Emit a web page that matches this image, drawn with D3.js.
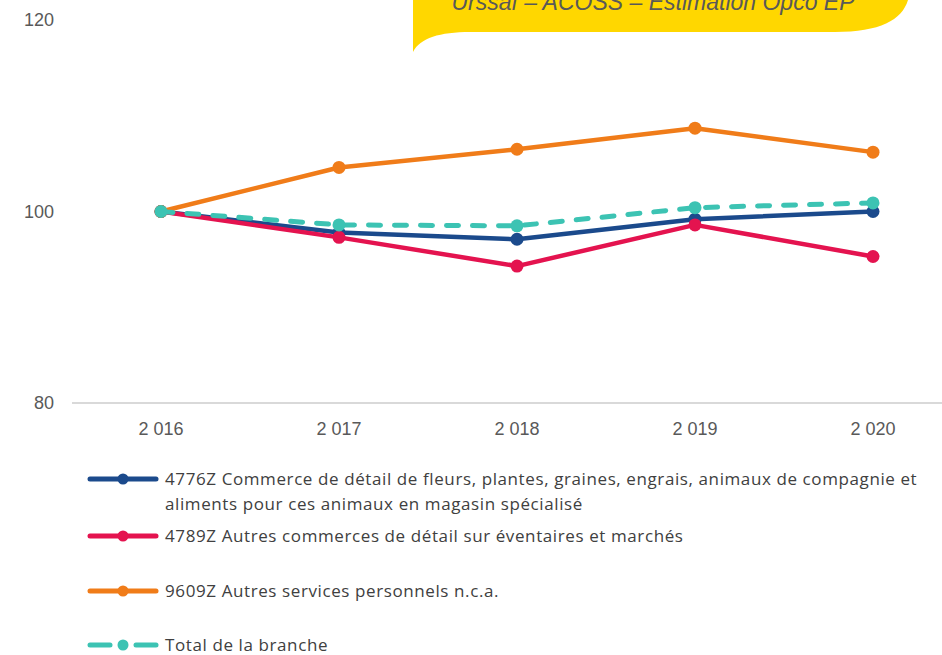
<!DOCTYPE html>
<html>
<head>
<meta charset="utf-8">
<script src="https://cdn.jsdelivr.net/npm/d3@7"></script>
<style>
  body { margin: 0; background: #fff; }
  svg { display: block; }
  .tick-label { font-family: "Liberation Sans", Arial, sans-serif; font-size: 18px; fill: #595959; }
  .legend-label { font-family: "Open Sans", "Noto Sans", sans-serif; font-size: 17px; letter-spacing: 0.6px; fill: #404040; }
  .source { font-family: "Liberation Sans", Arial, sans-serif; font-size: 23px; font-style: italic; fill: #595959; }
</style>
</head>
<body>
<div id="chart"></div>
<script>
// data
var years = ["2 016", "2 017", "2 018", "2 019", "2 020"];
var yTicks = [80, 100, 120];

var fleurs = [100, 97.8, 97.1, 99.2, 100.0];
var marches = [100, 97.3, 94.3, 98.6, 95.3];
var services = [100, 104.6, 106.5, 108.7, 106.2];
var branche = [100, 98.6, 98.5, 100.4, 100.9];

var seriesNames = [
  ["4776Z Commerce de détail de fleurs, plantes, graines, engrais, animaux de compagnie et",
   "aliments pour ces animaux en magasin spécialisé"],
  ["4789Z Autres commerces de détail sur éventaires et marchés"],
  ["9609Z Autres services personnels n.c.a."],
  ["Total de la branche"]
];
var seriesColors = ["#1b4a8c", "#e4134f", "#f07c19", "#3cc3b3"];
var seriesValues = [fleurs, marches, services, branche];

var source = "Urssaf – ACOSS – Estimation Opco EP";

var W = 942, H = 655;

var svg = d3.select("#chart").append("svg")
  .attr("width", W)
  .attr("height", H);

// scales
var x = d3.scaleBand().domain(years).range([72, 962]);
var y = d3.scaleLinear().domain([80, 120]).range([403, 20]);

var series = seriesValues.map(function(vals, i){
  return {
    name: seriesNames[i],
    color: seriesColors[i],
    dashed: i == 3,
    points: vals.map(function(v, j){ return {year: years[j], value: v}; })
  };
});

// x axis line
svg.append("line")
  .attr("x1", 72).attr("x2", W)
  .attr("y1", y(80)).attr("y2", y(80))
  .attr("stroke", "#d9d9d9")
  .attr("stroke-width", 2);

// x tick labels
svg.selectAll(".xlab").data(years).enter().append("text")
  .attr("class", "tick-label")
  .attr("x", function(d){ return x(d) + x.bandwidth()/2; })
  .attr("y", y(80) + 32)
  .attr("text-anchor", "middle")
  .text(function(d){ return d; });

// y tick labels
svg.selectAll(".ylab").data(yTicks).enter().append("text")
  .attr("class", "tick-label")
  .attr("x", 54)
  .attr("y", function(d){ return y(d); })
  .attr("dy", "0.35em")
  .attr("text-anchor", "end")
  .text(function(d){ return d; });

// lines
var line = d3.line()
  .x(function(d){ return x(d.year) + x.bandwidth()/2; })
  .y(function(d){ return y(d.value); });

var g = svg.selectAll(".series").data(series).enter().append("g");
g.append("path")
  .attr("d", function(d){ return line(d.points); })
  .attr("fill", "none")
  .attr("stroke", function(d){ return d.color; })
  .attr("stroke-width", function(d){ return d.dashed ? 5 : 4.5; })
  .attr("stroke-linecap", "round")
  .attr("stroke-linejoin", "round")
  .attr("stroke-dasharray", function(d){ return d.dashed ? "12,14" : null; });
g.selectAll("circle").data(function(d){ return d.points.map(function(p){ return {p: p, c: d.color}; }); })
  .enter().append("circle")
  .attr("cx", function(d){ return x(d.p.year) + x.bandwidth()/2; })
  .attr("cy", function(d){ return y(d.p.value); })
  .attr("r", 6.5)
  .attr("fill", function(d){ return d.c; });

// legend
var legendY = [479, 536, 591, 645];
var lg = svg.selectAll(".legend").data(series).enter().append("g")
  .attr("transform", function(d, i){ return "translate(0," + legendY[i] + ")"; });
lg.each(function(d){
  var el = d3.select(this);
  if(d.dashed){
    [[90, 110], [136, 156]].forEach(function(s){
      el.append("line").attr("x1", s[0]).attr("x2", s[1]).attr("y1", 0).attr("y2", 0)
        .attr("stroke", d.color).attr("stroke-width", 5).attr("stroke-linecap", "round");
    });
  } else {
    el.append("line").attr("x1", 90).attr("x2", 156).attr("y1", 0).attr("y2", 0)
      .attr("stroke", d.color).attr("stroke-width", 5).attr("stroke-linecap", "round");
  }
  el.append("circle").attr("cx", 123).attr("cy", 0).attr("r", 5.5).attr("fill", d.color);
  d.name.forEach(function(t, k){
    el.append("text")
      .attr("class", "legend-label")
      .attr("x", 165)
      .attr("y", k * 25)
      .attr("dy", "0.35em")
      .text(t);
  });
});

// source callout (top right)
svg.append("path")
  .attr("d", "M413,0 L908,0 C902,20 880,32 835,32 L470,32 C440,32 420,38 413,52 Z")
  .attr("fill", "#ffd700");
svg.append("text")
  .attr("class", "source")
  .attr("x", 653)
  .attr("y", 10)
  .attr("text-anchor", "middle")
  .text(source);
</script>
</body>
</html>
